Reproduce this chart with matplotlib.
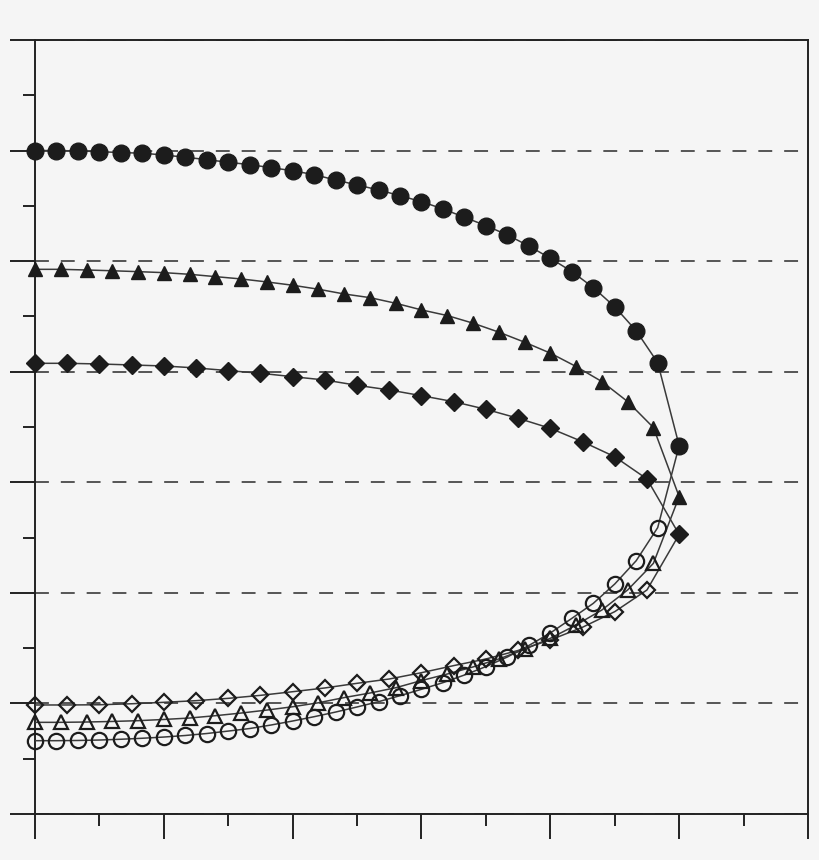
import matplotlib
matplotlib.use('Agg')
import matplotlib.pyplot as plt
import numpy as np
from matplotlib.ticker import MultipleLocator

# values (x in major-tick units, y in major-tick units)
x_circle_top = np.linspace(0, 5, 31)
y_circle_top = [6.00, 6.00, 5.997, 5.99, 5.982, 5.976, 5.96, 5.94, 5.918, 5.894,
                5.873, 5.845, 5.818, 5.782, 5.734, 5.689, 5.644, 5.592, 5.538, 5.472,
                5.397, 5.321, 5.237, 5.137, 5.026, 4.906, 4.761, 4.587, 4.37, 4.082,
                3.331]
x_circle_bot = np.linspace(0, 29 / 6, 30)
y_circle_bot = [0.663, 0.663, 0.665, 0.669, 0.676, 0.685, 0.696, 0.710, 0.728, 0.750,
                0.773, 0.805, 0.841, 0.880, 0.922, 0.968, 1.016, 1.070, 1.128, 1.188,
                1.257, 1.333, 1.420, 1.524, 1.637, 1.769, 1.905, 2.08, 2.291, 2.59]

x_tri_top = np.linspace(0, 5, 26)
y_tri_top = [4.926, 4.926, 4.92, 4.913, 4.905, 4.896, 4.881, 4.86, 4.839, 4.812,
             4.782, 4.746, 4.703, 4.67, 4.619, 4.559, 4.508, 4.439, 4.358, 4.267,
             4.168, 4.047, 3.911, 3.73, 3.495, 2.87]
x_tri_bot = np.linspace(0, 4.8, 25)
y_tri_bot = [0.829, 0.829, 0.832, 0.837, 0.844, 0.855, 0.868, 0.889, 0.913, 0.940,
             0.970, 1.006, 1.053, 1.094, 1.142, 1.207, 1.266, 1.330, 1.402, 1.489,
             1.589, 1.709, 1.845, 2.026, 2.267]

x_dia_top = np.linspace(0, 5, 21)
y_dia_top = [4.076, 4.076, 4.07, 4.061, 4.052, 4.034, 4.01, 3.986, 3.955, 3.925,
             3.877, 3.835, 3.783, 3.729, 3.66, 3.579, 3.488, 3.367, 3.231, 3.03,
             2.528]
x_dia_bot = np.linspace(0, 4.75, 20)
y_dia_bot = [0.986, 0.986, 0.988, 0.997, 1.010, 1.025, 1.046, 1.073, 1.106, 1.140,
             1.182, 1.221, 1.278, 1.342, 1.402, 1.479, 1.574, 1.689, 1.830, 2.026]

bg = '#f5f5f5'
ink = '#1c1c1c'
line_col = '#3a3a3a'

plt.rcParams['lines.scale_dashes'] = False

fig = plt.figure(figsize=(8.2, 8.6), dpi=100, facecolor=bg)
ax = fig.add_axes([35 / 820, 46 / 860, 773 / 820, 774 / 860])
ax.set_facecolor(bg)

series = [
    (x_circle_top, y_circle_top, x_circle_bot, y_circle_bot, 'o', 12, 11),
    (x_tri_top, y_tri_top, x_tri_bot, y_tri_bot, '^', 10, 9.5),
    (x_dia_top, y_dia_top, x_dia_bot, y_dia_bot, 'D', 9, 8.5),
]

for xt, yt, xb, yb, m, ms_top, ms_bot in series:
    # one continuous line: upper branch out, lower branch back
    xs = np.concatenate([xt, xb[::-1]])
    ys = np.concatenate([yt, yb[::-1]])
    ax.plot(xs, ys, color=line_col, lw=1.1, zorder=3)
    ax.plot(xt, yt, ls='none', marker=m, ms=ms_top, color=ink, mec=ink,
            zorder=4, clip_on=False)
    ax.plot(xb, yb, ls='none', marker=m, ms=ms_bot, mfc='none', mec=ink,
            mew=1.6, zorder=4, clip_on=False)

ax.set_xlim(0, 6)
ax.set_ylim(0, 7)
ax.xaxis.set_major_locator(MultipleLocator(1))
ax.xaxis.set_minor_locator(MultipleLocator(0.5))
ax.yaxis.set_major_locator(MultipleLocator(1))
ax.yaxis.set_minor_locator(MultipleLocator(0.5))

ax.yaxis.grid(True, which='major', color='#555555', lw=1.4, ls=(0, (10, 8.6)), zorder=1)
ax.set_axisbelow(True)

for s in ax.spines.values():
    s.set_color('#222222')
    s.set_linewidth(1.4)

ax.tick_params(which='major', direction='out', length=18, width=1.4, color='#222222',
               labelleft=False, labelbottom=False)
ax.tick_params(which='minor', direction='out', length=8.6, width=1.4, color='#222222')

fig.savefig('out.png', dpi=100, facecolor=bg)
